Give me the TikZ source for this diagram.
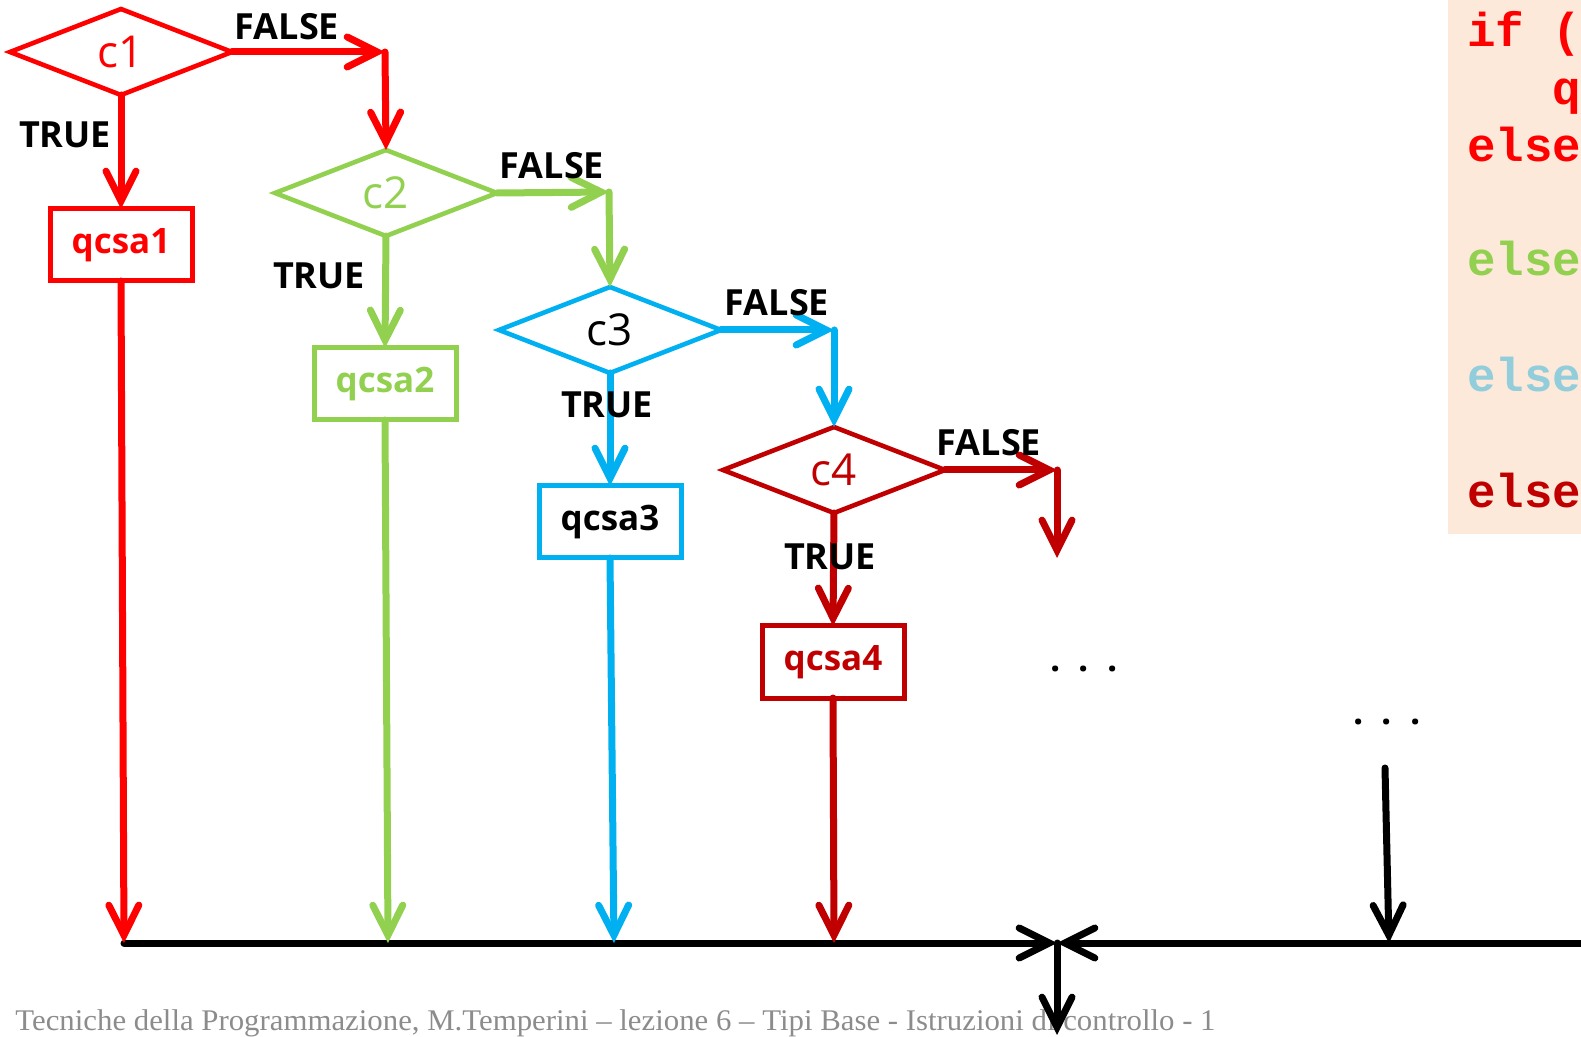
\documentclass[tikz,border=0pt]{standalone}
\usepackage{fontspec}
\usepackage{graphicx}
\usetikzlibrary{arrows.meta,shapes.geometric}
\setmainfont{Liberation Serif}
\newfontfamily\hand{Open Sans}
\newfontfamily\codefont{Liberation Mono}

\definecolor{cred}{HTML}{FF0000}
\definecolor{cgreen}{HTML}{92D050}
\definecolor{ccyan}{HTML}{00B0F0}
\definecolor{cdark}{HTML}{C00000}
\definecolor{clight}{HTML}{92CDDC}
\definecolor{codebg}{HTML}{FDE9D9}
\definecolor{footgray}{HTML}{8C8C8C}

\tikzset{
  cond/.style={diamond, draw=#1, line width=2.3pt, minimum width=111pt,
    minimum height=43pt, inner sep=0pt, outer sep=0pt, text=#1,
    font=\hand\fontsize{22}{22}\selectfont},
  act/.style={rectangle, draw=#1, line width=2.5pt, minimum width=71pt,
    minimum height=36pt, inner sep=0pt, outer sep=0pt, text=#1,
    font=\hand\bfseries\fontsize{17.5}{18}\selectfont},
  flow/.style={draw=#1, line width=3.5pt, line cap=round,
    -{Straight Barb[length=15pt,width=15pt,line cap=round]}},
  lbl/.style={font=\hand\bfseries\fontsize{18}{18}\selectfont, text=black,
    inner sep=0pt},
  code/.style={font=\codefont\bfseries\fontsize{23.75}{24}\selectfont,
    anchor=base west, inner sep=0pt},
  dots/.style={font=\hand\bfseries\fontsize{18}{18}\selectfont, text=black,
    inner sep=0pt},
}

\begin{document}
\begin{tikzpicture}[x=0.5pt, y=-0.5pt]
\useasboundingbox (0,0) rectangle (1581,1037);

% code panel
\fill[codebg] (1448,0) rectangle (1581,534);
\node[code, text=cred]   (l1) at (1467,47)  {if (};
\node[code, text=cred]   (l2) at (1467,105) {\phantom{iii}q};
\node[code, text=cred]   (l3) at (1467,162) {else};
\node[code, text=cgreen] (l4) at (1467,276) {else};
\node[code, text=clight] (l5) at (1467,392) {else};
\node[code, text=cdark]  (l6) at (1467,508) {else};

% footer
\node[anchor=base west, inner sep=0pt, text=footgray,
  font=\fontsize{15}{15}\selectfont] (foot) at (15,1030)
  {\resizebox{600pt}{\height}{Tecniche della Programmazione, M.Temperini – lezione 6 – Tipi Base - Istruzioni di controllo - 1}};

% conditions and actions
\node[cond=cred]              (c1) at (121,52)  {c1\hspace{10pt}};
\node[cond=cgreen]            (c2) at (386,193) {c2\hspace{10pt}};
\node[cond=ccyan, text=black] (c3) at (610,330) {c3\hspace{10pt}};
\node[cond=cdark]             (c4) at (834,470) {c4\hspace{10pt}};

\node[act=cred]              (q1) at (121,245) {qcsa1};
\node[act=cgreen]            (q2) at (385,384) {qcsa2};
\node[act=ccyan, text=black] (q3) at (610,522) {qcsa3};
\node[act=cdark]             (q4) at (833,662) {qcsa4};

% corners of the FALSE branches
\coordinate (k1) at (385,52);
\coordinate (k2) at (609,192);
\coordinate (k3) at (834,330);
\coordinate (k4) at (1057,470);
\coordinate (n5) at (1057,558);

% bus
\coordinate (b1) at (124,943);
\coordinate (b2) at (388,943);
\coordinate (b3) at (614,943);
\coordinate (b4) at (834,943);
\coordinate (j)  at (1057,943);
\coordinate (e)  at (1581,943);
\coordinate (out) at (1057,1035);
\coordinate (m)  at (1385,768);
\coordinate (bm) at (1389,943);

\draw[flow=black] (b1) -- (j);
\draw[flow=black] (e) -- (j);
\draw[flow=black] (j) -- (out);
\draw[flow=black] (m) -- (bm);

% branch c1
\draw[flow=cred] (c1.east) -- (k1);
\draw[flow=cred] (k1) -- (c2.north);
\draw[flow=cred] (c1.south) -- (q1.north);
\draw[flow=cred] (q1.south) -- (b1);
% branch c2
\draw[flow=cgreen] (c2.east) -- (k2);
\draw[flow=cgreen] (k2) -- (c3.north);
\draw[flow=cgreen] (c2.south) -- (q2.north);
\draw[flow=cgreen] (q2.south) -- (b2);
% branch c3
\draw[flow=ccyan] (c3.east) -- (k3);
\draw[flow=ccyan] (k3) -- (c4.north);
\draw[flow=ccyan] (c3.south) -- (q3.north);
\draw[flow=ccyan] (q3.south) -- (b3);
% branch c4
\draw[flow=cdark] (c4.east) -- (k4);
\draw[flow=cdark] (k4) -- (n5);
\draw[flow=cdark] (c4.south) -- (q4.north);
\draw[flow=cdark] (q4.south) -- (b4);

% branch labels
\node[lbl] (f1) at (287,27)  {FALSE};
\node[lbl] (f2) at (552,166) {FALSE};
\node[lbl] (f3) at (777,303) {FALSE};
\node[lbl] (f4) at (989,443) {FALSE};
\node[lbl] (t1) at (65,135)  {TRUE};
\node[lbl] (t2) at (319,276) {TRUE};
\node[lbl] (t3) at (607,405) {TRUE};
\node[lbl] (t4) at (830,557) {TRUE};

% continuation marks
\node[dots] (d1) at (1084,669) {.\hspace{9pt}.\hspace{9pt}.};
\node[dots] (d2) at (1387,722) {.\hspace{9pt}.\hspace{9pt}.};
\end{tikzpicture}
\end{document}
